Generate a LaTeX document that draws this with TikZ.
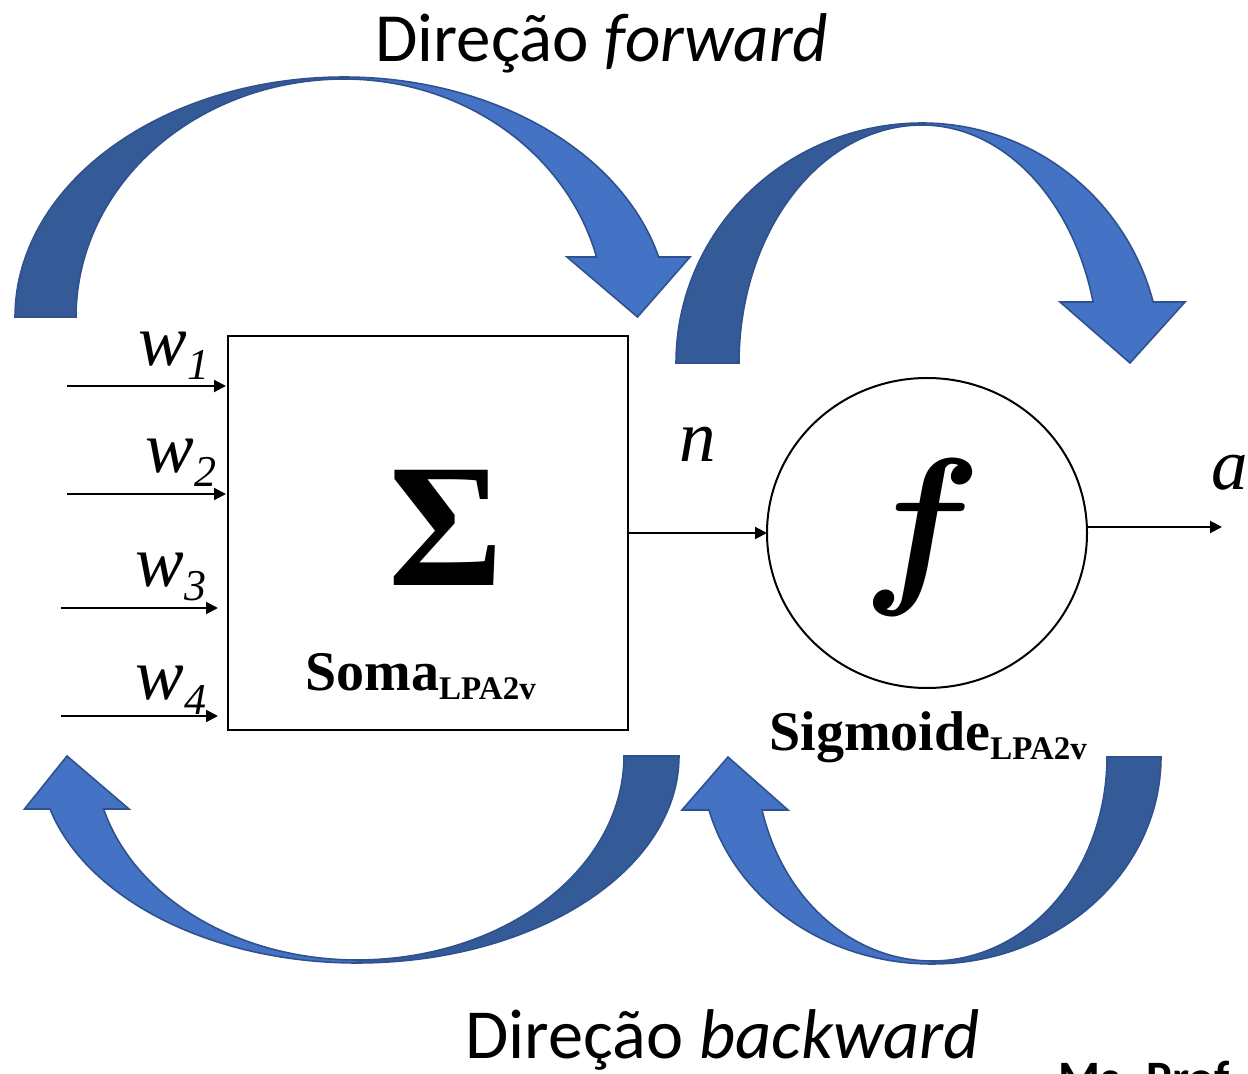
\documentclass[tikz,border=0pt]{standalone}
\usepackage{fontspec}
\setmainfont{Liberation Serif}
\newfontfamily\calib{Carlito}
\usetikzlibrary{arrows.meta,shapes.geometric}
\definecolor{bandlight}{HTML}{4472C4}
\definecolor{banddark}{HTML}{355A98}
\definecolor{bandline}{HTML}{2F528F}
\newsavebox\fglyph

\begin{document}
\sbox\fglyph{\scalebox{8.8}{\boldmath$f$}}%
\begin{tikzpicture}[x=0.5pt,y=-0.5pt,
  band/.style={draw=bandline, line width=0.8pt, line join=miter},
  backpart/.style={band, fill=banddark},
  frontpart/.style={band, fill=bandlight},
  wire/.style={line width=1pt, -{Triangle[length=6pt,width=6pt]}},
  wlab/.style={inner sep=0, anchor=base west, font=\fontsize{36.5pt}{40pt}\selectfont\itshape},
  caption/.style={inner sep=0, anchor=base west, font=\fontsize{28pt}{30pt}\selectfont\bfseries},
  heading/.style={inner sep=0, anchor=base west, font=\calib\fontsize{34.5pt}{38pt}\selectfont},
  samples=60
]
\useasboundingbox (0,0) rectangle (1248,1074);

% ---- forward band over the summing block
\draw[backpart] plot[domain=180:90] ({344+329*cos(\x)},{317-240*sin(\x)})
  -- plot[domain=90:180] ({344+268*cos(\x)},{317-238*sin(\x)}) -- cycle;
\draw[frontpart] plot[domain=90:14.48] ({344+325*cos(\x)},{317-240*sin(\x)})
  -- (690,257) -- (637.5,317) -- (567,257)
  -- plot[domain=14.6:90] ({344+261*cos(\x)},{317-238*sin(\x)}) -- cycle;

% ---- forward band over the activation
\draw[backpart] plot[domain=180:90] ({922+246*cos(\x)},{363-240*sin(\x)})
  -- plot[domain=90:180] ({922+183*cos(\x)},{363-238*sin(\x)}) -- cycle;
\draw[frontpart] plot[domain=90:14.72] ({922+239*cos(\x)},{363-240*sin(\x)})
  -- (1185,302) -- (1130,363) -- (1060,302)
  -- plot[domain=14.85:90] ({922+177*cos(\x)},{363-238*sin(\x)}) -- cycle;

% ---- backward band under the summing block
\draw[backpart] plot[domain=0:-90] ({357+322*cos(\x)},{756-207*sin(\x)})
  -- plot[domain=-90:0] ({357+267*cos(\x)},{756-204*sin(\x)}) -- cycle;
\draw[frontpart] plot[domain=-90:-165.17] ({357+317.6*cos(\x)},{756-207*sin(\x)})
  -- (24.5,809) -- (67,756) -- (129,809)
  -- plot[domain=-164.94:-90] ({357+262.4*cos(\x)},{756-204*sin(\x)}) -- cycle;

% ---- backward band under the activation
\draw[backpart] plot[domain=0:-90] ({932+229*cos(\x)},{757-207*sin(\x)})
  -- plot[domain=-90:0] ({932+175*cos(\x)},{757-204*sin(\x)}) -- cycle;
\draw[frontpart] plot[domain=-90:-165.17] ({932+230.7*cos(\x)},{757-207*sin(\x)})
  -- (682,810) -- (728,757) -- (788,810)
  -- plot[domain=-164.94:-90] ({932+176*cos(\x)},{757-204*sin(\x)}) -- cycle;

% ---- blocks
\node[draw, line width=1.2pt, minimum width=200pt, minimum height=197pt,
      inner sep=0, outer sep=0] (sum) at (428,533) {};
\node[draw, ellipse, line width=1pt, minimum width=160pt, minimum height=155pt,
      inner sep=0, outer sep=0] (sig) at (927,533) {};

\node[inner sep=0, font=\fontsize{88pt}{90pt}\selectfont\bfseries] (sigma) at (446,528) {Σ};
\node[inner sep=0, anchor=base] (fsym) at (922,582) {\usebox\fglyph};

\node[caption] (soma) at (305,690) {Soma\raisebox{-4.5pt}{\fontsize{16.5pt}{18pt}\selectfont LPA2v}};
\node[caption] (sigm) at (769,750) {Sigmoide\raisebox{-4.5pt}{\fontsize{16.5pt}{18pt}\selectfont LPA2v}};

% ---- inputs
\coordinate (in1) at (67,386);
\coordinate (in2) at (67,494);
\coordinate (in3) at (61,608);
\coordinate (in4) at (61,716);
\draw[wire] (in1) -- ([xshift=-1pt]in1 -| sum.west);
\draw[wire] (in2) -- ([xshift=-1pt]in2 -| sum.west);
\draw[wire] (in3) -- ([xshift=-5pt]in3 -| sum.west);
\draw[wire] (in4) -- ([xshift=-5pt]in4 -| sum.west);

\node[wlab] (w1) at (138,366) {w\raisebox{-7pt}{\fontsize{22pt}{24pt}\selectfont 1}};
\node[wlab] (w2) at (145,473) {w\raisebox{-7pt}{\fontsize{22pt}{24pt}\selectfont 2}};
\node[wlab] (w3) at (135,587) {w\raisebox{-7pt}{\fontsize{22pt}{24pt}\selectfont 3}};
\node[wlab] (w4) at (135,700) {w\raisebox{-7pt}{\fontsize{22pt}{24pt}\selectfont 4}};

% ---- net input and output
\draw[wire] (sum.east) -- (sig.west);
\node[wlab] (nlab) at (679,462) {n};
\coordinate (out) at (1222,527);
\draw[wire] (sig.east |- out) -- (out);
\node[wlab] (alab) at (1211,490) {a};

% ---- headings
\node[heading] (fwd) at (375,62) {Direção \textit{forward}};
\node[heading, font=\calib\fontsize{35.2pt}{38pt}\selectfont] (bwd) at (465,1058) {Direção \textit{backward}};
\node[inner sep=0, anchor=base west, font=\calib\bfseries\fontsize{24pt}{26pt}\selectfont] (sign) at (1058,1094) {Ms. Prof};
\end{tikzpicture}
\end{document}
